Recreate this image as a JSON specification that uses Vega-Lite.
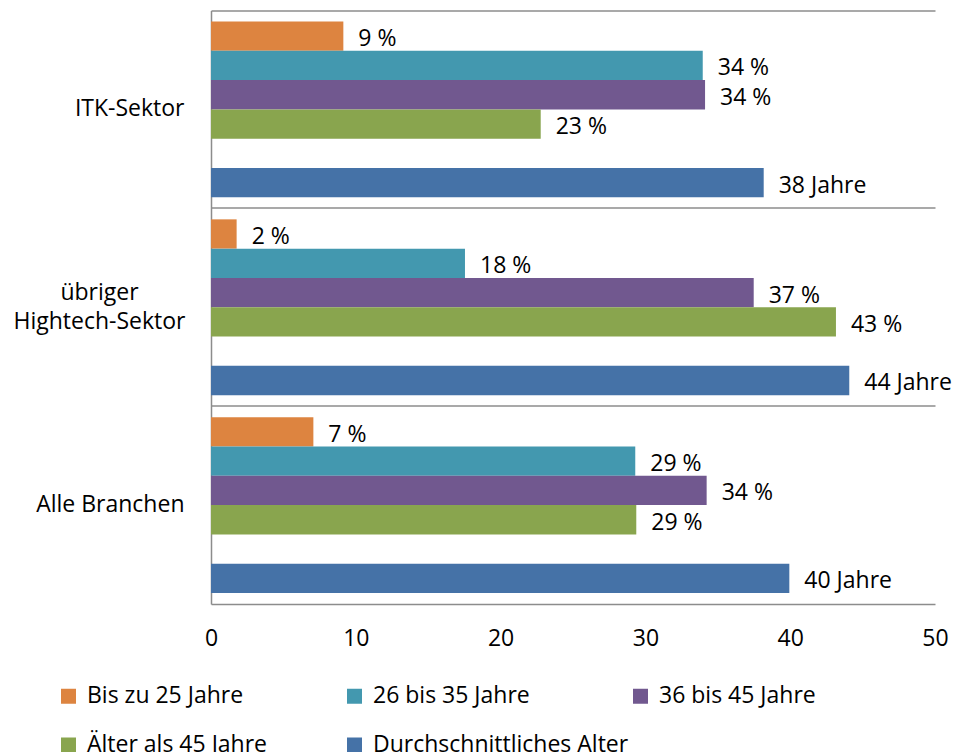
{
  "$schema": "https://vega.github.io/schema/vega-lite/v6.json",
  "width": 724,
  "height": 593.5,
  "autosize": "none",
  "padding": {"left": 211, "top": 10.5, "right": 21, "bottom": 148},
  "background": "#ffffff",
  "config": {
    "view": {"stroke": null},
    "font": "Open Sans",
    "text": {"font": "Open Sans"}
  },
  "data": {
    "values": [
      {"sektor": "ITK-Sektor", "serie": "Bis zu 25 Jahre", "wert": 9.14, "label": "9 %"},
      {"sektor": "ITK-Sektor", "serie": "26 bis 35 Jahre", "wert": 33.96, "label": "34 %"},
      {"sektor": "ITK-Sektor", "serie": "36 bis 45 Jahre", "wert": 34.12, "label": "34 %"},
      {"sektor": "ITK-Sektor", "serie": "Älter als 45 Jahre", "wert": 22.77, "label": "23 %"},
      {"sektor": "ITK-Sektor", "serie": "Durchschnittliches Alter", "wert": 38.17, "label": "38 Jahre"},
      {"sektor": "übriger Hightech-Sektor", "serie": "Bis zu 25 Jahre", "wert": 1.77, "label": "2 %"},
      {"sektor": "übriger Hightech-Sektor", "serie": "26 bis 35 Jahre", "wert": 17.54, "label": "18 %"},
      {"sektor": "übriger Hightech-Sektor", "serie": "36 bis 45 Jahre", "wert": 37.48, "label": "37 %"},
      {"sektor": "übriger Hightech-Sektor", "serie": "Älter als 45 Jahre", "wert": 43.16, "label": "43 %"},
      {"sektor": "übriger Hightech-Sektor", "serie": "Durchschnittliches Alter", "wert": 44.08, "label": "44 Jahre"},
      {"sektor": "Alle Branchen", "serie": "Bis zu 25 Jahre", "wert": 7.07, "label": "7 %"},
      {"sektor": "Alle Branchen", "serie": "26 bis 35 Jahre", "wert": 29.3, "label": "29 %"},
      {"sektor": "Alle Branchen", "serie": "36 bis 45 Jahre", "wert": 34.23, "label": "34 %"},
      {"sektor": "Alle Branchen", "serie": "Älter als 45 Jahre", "wert": 29.37, "label": "29 %"},
      {"sektor": "Alle Branchen", "serie": "Durchschnittliches Alter", "wert": 39.94, "label": "40 Jahre"}
    ]
  },
  "encoding": {
    "y": {
      "field": "sektor",
      "type": "nominal",
      "sort": ["ITK-Sektor", "übriger Hightech-Sektor", "Alle Branchen"],
      "scale": {"paddingInner": 0, "paddingOuter": 0},
      "axis": {
        "title": null,
        "labelFont": "Open Sans",
        "labelFontSize": 23,
        "labelColor": "#000000",
        "labelLimit": 400,
        "labelLineHeight": 29,
        "ticks": false,
        "tickSize": 0,
        "domain": true,
        "domainColor": "#8c8c8c",
        "domainWidth": 1.5,
        "grid": true,
        "gridColor": "#8c8c8c",
        "gridWidth": 1.5,
        "bandPosition": 0,
        "labelExpr": "datum.value == 'übriger Hightech-Sektor' ? ['übriger', 'Hightech-Sektor'] : datum.value",
        "labelAlign": {"condition": {"test": "datum.value == 'übriger Hightech-Sektor'", "value": "center"}, "value": "right"},
        "labelPadding": {"condition": {"test": "datum.value == 'übriger Hightech-Sektor'", "value": 112}, "value": 27},
        "labelOffset": {"condition": {"test": "datum.value == 'übriger Hightech-Sektor'", "value": -14}, "value": 0}
      }
    },
    "yOffset": {
      "field": "serie",
      "type": "nominal",
      "scale": {
        "domain": ["Bis zu 25 Jahre", "26 bis 35 Jahre", "36 bis 45 Jahre", "Älter als 45 Jahre", "_", "Durchschnittliches Alter"],
        "paddingInner": 0,
        "paddingOuter": 0.376
      }
    },
    "x": {
      "field": "wert",
      "type": "quantitative",
      "scale": {"domain": [0, 50], "nice": false},
      "axis": {
        "title": null,
        "values": [0, 10, 20, 30, 40, 50],
        "grid": false,
        "ticks": false,
        "tickSize": 0,
        "labelFont": "Open Sans",
        "labelFontSize": 23,
        "labelColor": "#000000",
        "labelPadding": 23,
        "labelFlush": false,
        "domainColor": "#8c8c8c",
        "domainWidth": 1.5
      }
    }
  },
  "layer": [
    {
      "mark": {"type": "bar"},
      "encoding": {
        "color": {
          "field": "serie",
          "type": "nominal",
          "scale": {
            "domain": ["Bis zu 25 Jahre", "26 bis 35 Jahre", "36 bis 45 Jahre", "Älter als 45 Jahre", "Durchschnittliches Alter"],
            "range": ["#DD8440", "#4398AF", "#71588F", "#89A54E", "#4572A7"]
          },
          "legend": {
            "title": null,
            "orient": "none",
            "legendX": -154,
            "legendY": 674,
            "direction": "horizontal",
            "columns": 3,
            "gridAlign": "all",
            "symbolType": "square",
            "symbolSize": 225,
            "symbolStrokeWidth": 0,
            "labelFont": "Open Sans",
            "labelFontSize": 23,
            "labelColor": "#000000",
            "labelOffset": 7,
            "labelLimit": 400,
            "rowPadding": 25,
            "columnPadding": 0
          }
        }
      }
    },
    {
      "mark": {"type": "text", "align": "left", "baseline": "middle", "dx": 15, "dy": 3, "fontSize": 23, "font": "Open Sans", "color": "#000000"},
      "encoding": {
        "text": {"field": "label", "type": "nominal"}
      }
    }
  ]
}
